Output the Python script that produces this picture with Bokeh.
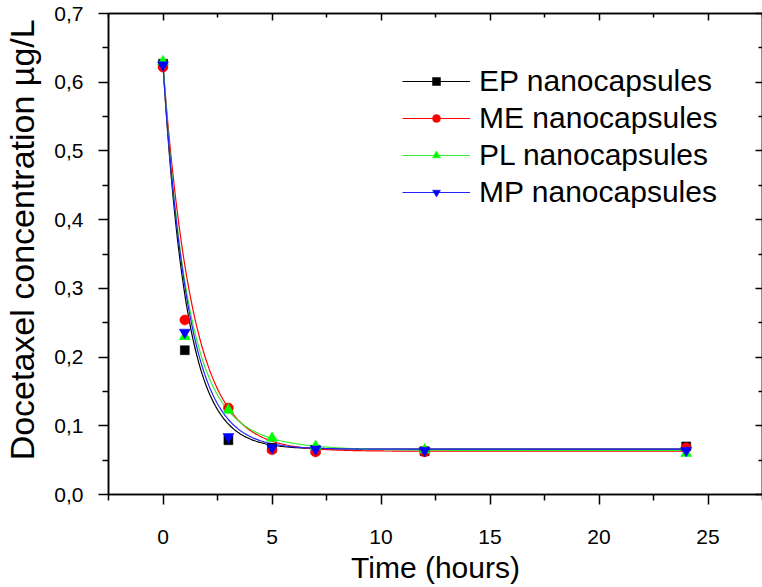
import numpy as np
from bokeh.plotting import figure
from bokeh.models import (LinearAxis, Legend, LegendItem, FixedTicker,
                          CustomJSTickFormatter, Range1d, CustomLabelingPolicy)
from bokeh.embed import file_html
from bokeh.resources import INLINE

# ---- data ----
time_h = [0, 1, 3, 5, 7, 12, 24]
ep_vals = [0.627, 0.210, 0.079, 0.068, 0.065, 0.063, 0.070]
me_vals = [0.622, 0.254, 0.126, 0.065, 0.062, 0.062, 0.068]
pl_vals = [0.630, 0.230, 0.123, 0.082, 0.070, 0.065, 0.060]
mp_vals = [0.625, 0.236, 0.084, 0.068, 0.066, 0.064, 0.064]

series_names = ["EP nanocapsules", "ME nanocapsules", "PL nanocapsules", "MP nanocapsules"]
x_label = "Time (hours)"
y_label = "Docetaxel concentration µg/L"

# exponential-decay fit parameters (y0, A1, t1, A2, t2) estimated from the drawn curves
fit_y0 = [0.066, 0.063, 0.064, 0.066]
fit_a1 = [0.559, 0.562, 0.422, 0.559]
fit_t1 = [1.10, 1.37, 1.00, 1.17]
fit_a2 = [0.0, 0.0, 0.144, 0.0]
fit_t2 = [1.0, 1.0, 2.2, 1.0]

x_major = [0, 5, 10, 15, 20, 25]
x_minor = [-2.5, 2.5, 7.5, 12.5, 17.5, 22.5, 27.5]
y_major = [0.0, 0.1, 0.2, 0.3, 0.4, 0.5, 0.6, 0.7]
y_minor = [0.05, 0.15, 0.25, 0.35, 0.45, 0.55, 0.65]

colors = ["black", "#ff0000", "#00ff00", "#0000ff"]
line_colors = ["black", "#ff0000", "#33ee33", "#2222ff"]
markers = ["square", "circle", "triangle", "inverted_triangle"]
msizes = [9, 10, 11, 11]

FONT = "Liberation Sans"

p = figure(frame_width=654, frame_height=481, output_backend="svg",
           toolbar_location=None, x_range=Range1d(-2.5, 27.5),
           y_range=Range1d(0, 0.7), min_border_left=98, min_border_right=2,
           min_border_top=13, min_border_bottom=84,
           background_fill_color="white", border_fill_color="white")
p.grid.visible = False
p.outline_line_color = "black"
p.outline_line_width = 1.5

xt = FixedTicker(ticks=x_major, minor_ticks=x_minor)
yt = FixedTicker(ticks=y_major, minor_ticks=y_minor)

for ax in p.xaxis:
    ax.ticker = xt
    ax.axis_label = x_label
for ax in p.yaxis:
    ax.ticker = yt
    # leading no-break spaces nudge the centred label slightly upward, as in the reference
    ax.axis_label = "\u00a0\u00a0\u00a0" + y_label
    ax.formatter = CustomJSTickFormatter(code="return tick.toFixed(1).replace('.', ',');")

for ax in p.xaxis + p.yaxis:
    ax.axis_line_width = 1.5
    ax.major_tick_line_width = 1.5
    ax.minor_tick_line_width = 1.5
    ax.major_tick_out = 10
    ax.major_tick_in = 0
    ax.minor_tick_out = 6
    ax.minor_tick_in = 0
    ax.major_label_text_font = FONT
    ax.major_label_text_font_size = "21px"
    ax.major_label_text_color = "black"
    ax.axis_label_text_font = FONT
    ax.axis_label_text_font_style = "normal"
    ax.axis_label_text_color = "black"

p.xaxis.major_label_standoff = 25
p.xaxis.axis_label_text_font_size = "30px"
p.xaxis.axis_label_standoff = 4
p.yaxis.major_label_standoff = 15
p.yaxis.axis_label_text_font_size = "34px"
p.yaxis.axis_label_standoff = 10

hide_labels = "try { for (const i of Array.from(indices.ones())) indices.unset(i); } catch (e) {} return indices;"

def inner_axis(ticker):
    return LinearAxis(ticker=ticker, major_label_text_font_size="0px", major_label_standoff=0,
                      major_label_policy=CustomLabelingPolicy(code=hide_labels),
                      major_tick_in=7, major_tick_out=0, minor_tick_in=4, minor_tick_out=0,
                      axis_line_width=1.5, major_tick_line_width=1.5, minor_tick_line_width=1.5)

p.add_layout(inner_axis(xt), "above")
p.add_layout(inner_axis(yt), "right")

all_vals = [ep_vals, me_vals, pl_vals, mp_vals]
tt = np.linspace(0, 24, 400)
line_rs = []
for i in range(len(all_vals)):
    yy = fit_y0[i] + fit_a1[i] * np.exp(-tt / fit_t1[i]) + fit_a2[i] * np.exp(-tt / fit_t2[i])
    line_rs.append(p.line(tt, yy, line_color=line_colors[i], line_width=1.2))

scatter_rs = []
for i, vals in enumerate(all_vals):
    scatter_rs.append(p.scatter(time_h, vals, marker=markers[i], size=msizes[i],
                                fill_color=colors[i], line_color=colors[i], line_width=0.5))

legend_items = [LegendItem(label=series_names[i], renderers=[line_rs[i], scatter_rs[i]])
                for i in range(len(series_names))]
legend = Legend(items=legend_items, location=(294, 285),
                border_line_alpha=0, background_fill_alpha=0,
                padding=0, margin=0, spacing=3,
                glyph_width=68, glyph_height=20, label_height=30,
                label_standoff=9, label_text_font=FONT,
                label_text_font_size="30px", label_text_color="black")
p.add_layout(legend, "center")

open("out.html", "w").write(file_html(p, INLINE))
